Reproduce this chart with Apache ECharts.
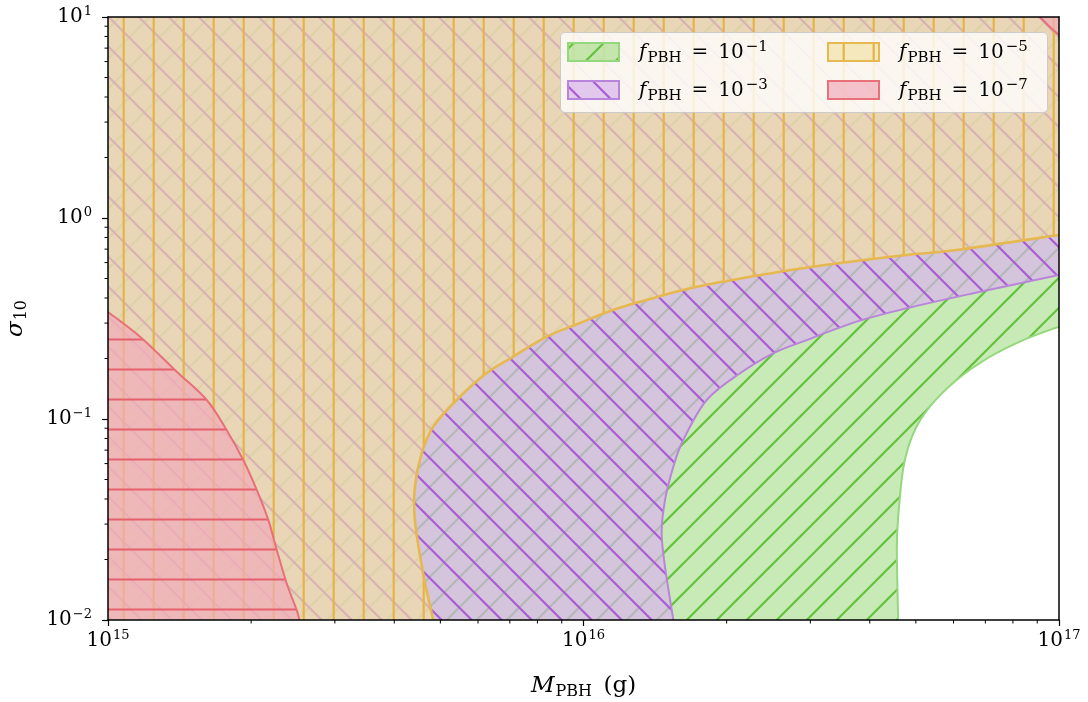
<!DOCTYPE html>
<html>
<head>
<meta charset="utf-8">
<script src="https://cdn.jsdelivr.net/npm/echarts@6.0.0/dist/echarts.min.js"></script>
<style>
  html, body { margin: 0; padding: 0; background: #ffffff; }
  #chart { width: 1088px; height: 702px; }
</style>
</head>
<body>
<div id="chart"></div>
<script>
// Axis ranges and tick values
const massRange = [1e15, 1e17];
const sigmaRange = [1e-2, 1e1];
const xTickValues = [1e15, 1e16, 1e17];
const yTickValues = [1e-2, 1e-1, 1e0, 1e1];

// Exclusion boundaries [M_PBH (g), sigma_10] for each f_PBH
const boundaryF1 = [[4.59e16, 0.01], [4.56e16, 0.0223], [4.59e16, 0.0327], [4.71e16, 0.0579], [4.94e16, 0.0849],
  [5.35e16, 0.1151], [6.09e16, 0.1563], [7.16e16, 0.204], [8.41e16, 0.247], [1e17, 0.288]];
const boundaryF3 = [[1.545e16, 0.01], [1.484e16, 0.0184], [1.46e16, 0.0271], [1.484e16, 0.0395], [1.545e16, 0.0579],
  [1.621e16, 0.0786], [1.816e16, 0.1243], [2.134e16, 0.1689], [2.506e16, 0.2123], [2.947e16, 0.247],
  [3.754e16, 0.305], [4.78e16, 0.3554], [6.6e16, 0.422], [1e17, 0.52]];
const boundaryF5 = [[4.83e15, 0.01], [4.6e15, 0.0171], [4.42e15, 0.0314], [4.42e15, 0.046], [4.57e15, 0.0677],
  [4.83e15, 0.0915], [5.41e15, 0.1243], [6.26e15, 0.1693], [7.11e15, 0.204], [8.37e15, 0.2568],
  [9.83e15, 0.3003], [1.153e16, 0.3486], [1.358e16, 0.391], [1.73e16, 0.455], [2.5e16, 0.533],
  [3.46e16, 0.597], [4.78e16, 0.655], [6.09e16, 0.693], [1e17, 0.823]];
const boundaryF7Low = [[1e15, 0.3407], [1.168e15, 0.2568], [1.395e15, 0.172], [1.613e15, 0.1243], [1.776e15, 0.0881],
  [1.925e15, 0.0625], [2.055e15, 0.0444], [2.174e15, 0.0314], [2.264e15, 0.0223], [2.376e15, 0.0152],
  [2.494e15, 0.0112], [2.526e15, 0.01]];
const boundaryF7High = [[9.12e16, 10], [9.57e16, 8.92], [1e17, 8.13]];

// Legend entries: exponent of f_PBH
const legendExponents = ['−1', '−3', '−5', '−7'];

const SERIF = "'DejaVu Serif', 'Liberation Serif', serif";
const TILE = 30;

// Repeating hatch tile drawn on a small canvas
function hatch(kind, color, lw, phase) {
  const c = document.createElement('canvas');
  c.width = TILE; c.height = TILE;
  const g = c.getContext('2d');
  g.strokeStyle = color; g.lineWidth = lw;
  g.beginPath();
  if (kind === '|') { g.moveTo(phase, -2); g.lineTo(phase, TILE + 2); }
  else if (kind === '-') { g.moveTo(-2, phase); g.lineTo(TILE + 2, phase); }
  else if (kind === '/') {
    [phase - TILE, phase, phase + TILE].forEach(k => { g.moveTo(k + 3, -3); g.lineTo(k - TILE - 3, TILE + 3); });
  } else {
    [phase - TILE, phase, phase + TILE].forEach(k => { g.moveTo(k - 3, -3); g.lineTo(k + TILE + 3, TILE + 3); });
  }
  g.stroke();
  return { image: c, repeat: 'repeat' };
}

const styles = {
  f1: { fill: 'rgba(117,202,72,0.4)', pattern: hatch('/', '#62c23c', 2.2, 16.7), edge: '#93d87c', edgeWidth: 2, z: 2 },
  f3: { fill: 'rgba(217,180,236,0.7)', pattern: hatch('\\', '#aa5cd4', 2.2, 1.7), edge: '#b985da', edgeWidth: 2, z: 3 },
  f5: { fill: 'rgba(243,224,162,0.65)', pattern: hatch('|', '#e5b445', 2.2, 3.7), edge: '#e6b850', edgeWidth: 2.6, z: 4 },
  f7: { fill: 'rgba(241,171,185,0.7)', pattern: hatch('-', '#e5606c', 2.2, 9.5), edge: '#e8707a', edgeWidth: 2, z: 5 }
};

// Smooth cubic path through screen points
function smoothPath(p) {
  let d = 'M' + p[0][0] + ' ' + p[0][1];
  for (let i = 0; i < p.length - 1; i++) {
    const p0 = p[i - 1] || p[i], p1 = p[i], p2 = p[i + 1], p3 = p[i + 2] || p2;
    const c1 = [p1[0] + (p2[0] - p0[0]) / 6, p1[1] + (p2[1] - p0[1]) / 6];
    const c2 = [p2[0] - (p3[0] - p1[0]) / 6, p2[1] - (p3[1] - p1[1]) / 6];
    d += ' C' + c1[0] + ' ' + c1[1] + ' ' + c2[0] + ' ' + c2[1] + ' ' + p2[0] + ' ' + p2[1];
  }
  return d;
}

const topRight = [massRange[1], sigmaRange[1]];
const topLeft = [massRange[0], sigmaRange[1]];
const bottomLeft = [massRange[0], sigmaRange[0]];

function regionSeries(name, pieces, st) {
  return {
    type: 'custom', name, silent: true, clip: true, animation: false, z: st.z,
    coordinateSystem: 'cartesian2d',
    data: [bottomLeft],
    renderItem: (params, api) => {
      const children = [];
      pieces.forEach(piece => {
        const curve = smoothPath(piece.curve.map(v => api.coord(v)));
        const close = piece.close.map(v => api.coord(v)).map(c => ' L' + c[0] + ' ' + c[1]).join('') + ' Z';
        const area = curve + close;
        children.push({ type: 'path', shape: { pathData: area }, style: { fill: st.fill } });
        children.push({ type: 'path', shape: { pathData: area }, style: { fill: st.pattern } });
        children.push({ type: 'path', shape: { pathData: curve }, style: { fill: 'none', stroke: st.edge, lineWidth: st.edgeWidth } });
      });
      return { type: 'group', children };
    }
  };
}

// Minor log ticks (2..9 within each decade) placed through the axis scales
function minorValues(range) {
  const out = [];
  const k0 = Math.round(Math.log10(range[0])), k1 = Math.round(Math.log10(range[1]));
  for (let k = k0; k < k1; k++) for (let m = 2; m <= 9; m++) out.push(m * Math.pow(10, k));
  return out;
}
const minorTickSeries = {
  type: 'custom', silent: true, clip: false, animation: false, z: 20,
  coordinateSystem: 'cartesian2d',
  data: [bottomLeft],
  renderItem: (params, api) => {
    const children = [];
    minorValues(massRange).forEach(v => {
      const c = api.coord([v, sigmaRange[0]]);
      children.push({ type: 'line', shape: { x1: c[0], y1: c[1], x2: c[0], y2: c[1] + 3.5 }, style: { stroke: '#000', lineWidth: 1 } });
    });
    minorValues(sigmaRange).forEach(v => {
      const c = api.coord([massRange[0], v]);
      children.push({ type: 'line', shape: { x1: c[0], y1: c[1], x2: c[0] - 3.5, y2: c[1] }, style: { stroke: '#000', lineWidth: 1 } });
    });
    return { type: 'group', children };
  }
};

function expLabel(v) {
  const e = Math.round(Math.log10(v));
  return '{b|10}{s|' + (e < 0 ? '−' + (-e) : e) + '}';
}
const tickRich = {
  b: { fontFamily: SERIF, fontSize: 20, color: '#000' },
  s: { fontFamily: SERIF, fontSize: 13, color: '#000', verticalAlign: 'bottom', padding: [0, 0, 10, 1] }
};

const frameAxis = {
  type: 'log', logBase: 10, z: 10,
  axisLine: { show: true, lineStyle: { color: '#000', width: 1.5 } },
  axisTick: { show: false }, axisLabel: { show: false }, splitLine: { show: false }
};

const legendItems = [
  { st: styles.f1, x: 568, y: 43 },
  { st: styles.f3, x: 568, y: 81 },
  { st: styles.f5, x: 828, y: 43 },
  { st: styles.f7, x: 828, y: 81 }
];
const legendGraphics = [{
  type: 'rect', z: 100, shape: { x: 560.5, y: 32.5, width: 487, height: 80, r: 4 },
  style: { fill: 'rgba(255,255,255,0.8)', stroke: 'rgba(200,200,200,0.9)', lineWidth: 1 }
}];
legendItems.forEach((it, i) => {
  const sh = { x: it.x, y: it.y, width: 51, height: 18 };
  legendGraphics.push({ type: 'rect', z: 101, shape: sh, style: { fill: it.st.fill } });
  legendGraphics.push({ type: 'rect', z: 102, shape: sh, style: { fill: it.st.pattern } });
  legendGraphics.push({ type: 'rect', z: 103, shape: sh, style: { fill: 'none', stroke: it.st.edge, lineWidth: 2 } });
  legendGraphics.push({
    type: 'text', z: 104, x: it.x + 71, y: it.y + 10,
    style: {
      text: '{i|f}{sub|PBH}{r|\u2002=\u200210}{s|' + legendExponents[i] + '}',
      verticalAlign: 'middle', align: 'left',
      rich: {
        i: { fontFamily: SERIF, fontStyle: 'italic', fontSize: 20, fill: '#000' },
        sub: { fontFamily: SERIF, fontSize: 15, fill: '#000', verticalAlign: 'top', padding: [11, 0, 0, 1] },
        r: { fontFamily: SERIF, fontSize: 20, fill: '#000' },
        s: { fontFamily: SERIF, fontSize: 15, fill: '#000', verticalAlign: 'bottom', padding: [0, 0, 11, 2] }
      }
    }
  });
});

const chart = echarts.init(document.getElementById('chart'), null, { renderer: 'canvas' });
chart.setOption({
  backgroundColor: '#ffffff',
  animation: false,
  grid: { left: 108, right: 29, top: 17, bottom: 82, containLabel: false, outerBoundsMode: 'none' },
  xAxis: [{
    type: 'log', logBase: 10, min: massRange[0], max: massRange[1], interval: 1, z: 10,
    name: '{i|M}{sub|PBH}{r|\u2002(g)}', nameLocation: 'middle', nameGap: 52,
    nameTextStyle: {
      rich: {
        i: { fontFamily: SERIF, fontStyle: 'italic', fontSize: 23, color: '#000' },
        sub: { fontFamily: SERIF, fontSize: 16, color: '#000', verticalAlign: 'top', padding: [12, 0, 0, 1] },
        r: { fontFamily: SERIF, fontSize: 23, color: '#000' }
      }
    },
    axisLine: { show: true, lineStyle: { color: '#000', width: 1.5 } },
    axisTick: { show: true, inside: false, length: 6, lineStyle: { color: '#000', width: 1.2 } },
    axisLabel: { margin: 9, formatter: expLabel, rich: tickRich, showMinLabel: true, showMaxLabel: true },
    splitLine: { show: false }
  }, Object.assign({ position: 'top', min: massRange[0], max: massRange[1] }, frameAxis)],
  yAxis: [{
    type: 'log', logBase: 10, min: sigmaRange[0], max: sigmaRange[1], interval: 1, z: 10,
    name: '{i|σ}{sub|10}', nameLocation: 'middle', nameRotate: 90, nameGap: 78,
    nameTextStyle: {
      rich: {
        i: { fontFamily: SERIF, fontStyle: 'italic', fontSize: 23, color: '#000' },
        sub: { fontFamily: SERIF, fontSize: 16, color: '#000', verticalAlign: 'top', padding: [12, 0, 0, 1] }
      }
    },
    axisLine: { show: true, lineStyle: { color: '#000', width: 1.5 } },
    axisTick: { show: true, inside: false, length: 6, lineStyle: { color: '#000', width: 1.2 } },
    axisLabel: { margin: 16, formatter: expLabel, rich: tickRich, showMinLabel: true, showMaxLabel: true },
    splitLine: { show: false }
  }, Object.assign({ position: 'right', min: sigmaRange[0], max: sigmaRange[1] }, frameAxis)],
  series: [
    regionSeries('f1', [{ curve: boundaryF1, close: [topRight, topLeft, bottomLeft] }], styles.f1),
    regionSeries('f3', [{ curve: boundaryF3, close: [topRight, topLeft, bottomLeft] }], styles.f3),
    regionSeries('f5', [{ curve: boundaryF5, close: [topRight, topLeft, bottomLeft] }], styles.f5),
    regionSeries('f7', [
      { curve: boundaryF7Low, close: [bottomLeft] },
      { curve: boundaryF7High, close: [topRight] }
    ], styles.f7),
    minorTickSeries
  ],
  graphic: legendGraphics
});
</script>
</body>
</html>
